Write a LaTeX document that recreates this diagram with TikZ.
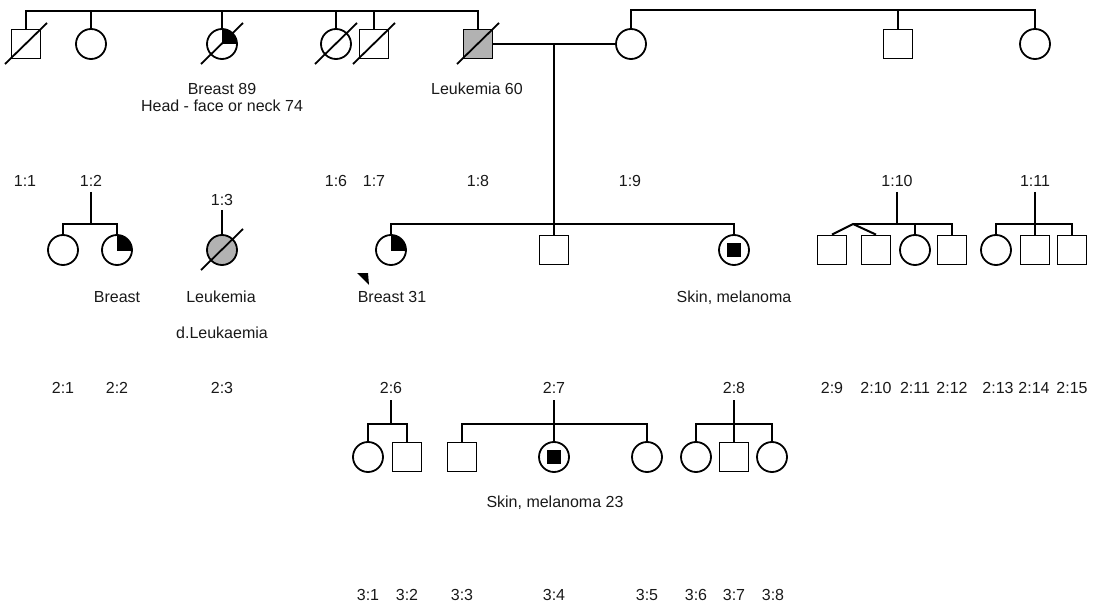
\documentclass[tikz,border=0pt]{standalone}
\usepackage{fontspec}
\setmainfont{Liberation Sans}
\usetikzlibrary{positioning}

\tikzset{
  male/.style={rectangle, draw, minimum size=29pt, inner sep=0pt, line width=1.8pt},
  female/.style={circle, draw, minimum size=30pt, inner sep=0pt, line width=1.8pt},
  ill/.style={fill=gray!60},
  core/.style={rectangle, fill=black, minimum size=14.5pt, inner sep=0pt},
  txt/.style={font=\fontsize{16}{19}\selectfont, anchor=base, inner sep=0pt, text=black!90},
  line/.style={line width=2pt},
  dead/.style={line width=1.8pt}
}

\begin{document}
\begin{tikzpicture}[x=1pt, y=-1pt]
  \useasboundingbox (0,0) rectangle (1096,615);

  % generation 1
  \node[male] (n11) at (26,44) {};
  \node[female] (n12) at (91,44) {};
  \node[female] (n13) at (222,44) {};
  \node[female] (n16) at (336,44) {};
  \node[male] (n17) at (374,44) {};
  \node[male, ill] (n18) at (478,44) {};
  \node[female] (n19) at (631,44) {};
  \node[male] (n110) at (898,44) {};
  \node[female] (n111) at (1035,44) {};

  % generation 2
  \node[female] (n21) at (63,250) {};
  \node[female] (n22) at (117,250) {};
  \node[female, ill] (n23) at (222,250) {};
  \node[female] (n26) at (391,250) {};
  \node[male] (n27) at (554,250) {};
  \node[female] (n28) at (734,250) {};
  \node[male] (n29) at (832,250) {};
  \node[male] (n210) at (876,250) {};
  \node[female] (n211) at (915,250) {};
  \node[male] (n212) at (952,250) {};
  \node[female] (n213) at (996,250) {};
  \node[male] (n214) at (1035,250) {};
  \node[male] (n215) at (1072,250) {};

  % generation 3
  \node[female] (n31) at (368,457) {};
  \node[male] (n32) at (407,457) {};
  \node[male] (n33) at (462,457) {};
  \node[female] (n34) at (554,457) {};
  \node[female] (n35) at (647,457) {};
  \node[female] (n36) at (696,457) {};
  \node[male] (n37) at (734,457) {};
  \node[female] (n38) at (772,457) {};

  \node[core] (n28x) at (n28) {};
  \node[core] (n34x) at (n34) {};

  \foreach \n in {n13,n22,n26} {
    \begin{scope}
      \clip (\n.center) rectangle (\n.east |- \n.north);
      \fill (\n.center) circle[radius=15pt];
    \end{scope}
  }
  \foreach \n in {n11,n13,n16,n17,n18,n23}
    \draw[dead] ([shift={(-21,20)}]\n.center) -- ([shift={(21,-21)}]\n.center);
  \fill ([shift={(-34,23)}]n26.center) -- ([shift={(-23,23)}]n26.center)
    -- ([shift={(-22,35)}]n26.center) -- cycle;

  % ids
  \node[txt] (l11) at (25,187) {1:1};
  \node[txt] (l12) at (91,187) {1:2};
  \node[txt] (l13) at (222,206) {1:3};
  \node[txt] (l16) at (336,187) {1:6};
  \node[txt] (l17) at (374,187) {1:7};
  \node[txt] (l18) at (478,187) {1:8};
  \node[txt] (l19) at (630,187) {1:9};
  \node[txt] (l110) at (897,187) {1:10};
  \node[txt] (l111) at (1035,187) {1:11};
  \node[txt] (l21) at (63,393) {2:1};
  \node[txt] (l22) at (117,393) {2:2};
  \node[txt] (l23) at (222,393) {2:3};
  \node[txt] (l26) at (391,393) {2:6};
  \node[txt] (l27) at (554,393) {2:7};
  \node[txt] (l28) at (734,393) {2:8};
  \node[txt] (l29) at (832,393) {2:9};
  \node[txt] (l210) at (876,393) {2:10};
  \node[txt] (l211) at (915,393) {2:11};
  \node[txt] (l212) at (952,393) {2:12};
  \node[txt] (l213) at (998,393) {2:13};
  \node[txt] (l214) at (1034,393) {2:14};
  \node[txt] (l215) at (1072,393) {2:15};
  \node[txt] (l31) at (368,600) {3:1};
  \node[txt] (l32) at (407,600) {3:2};
  \node[txt] (l33) at (462,600) {3:3};
  \node[txt] (l34) at (554,600) {3:4};
  \node[txt] (l35) at (647,600) {3:5};
  \node[txt] (l36) at (696,600) {3:6};
  \node[txt] (l37) at (734,600) {3:7};
  \node[txt] (l38) at (773,600) {3:8};

  % diagnoses
  \node[txt] (d13a) at (222,95) {Breast 89};
  \node[txt] (d13b) at (222,112) {Head - face or neck 74};
  \node[txt] (d18) at (477,95) {Leukemia 60};
  \node[txt] (d22) at (117,302) {Breast};
  \node[txt] (d23a) at (221,302) {Leukemia};
  \node[txt] (d23b) at (222,338) {d.Leukaemia};
  \node[txt] (d26) at (392,302) {Breast 31};
  \node[txt] (d28) at (734,302) {Skin, melanoma};
  \node[txt] (d34) at (555,507) {Skin, melanoma 23};

  \coordinate (m1) at (n27 |- n18);
  \coordinate (s12) at (91,224);
  \coordinate (s18) at (554,224);
  \coordinate (tw) at (853,224);
  \coordinate (s110) at (897,224);
  \coordinate (s111) at (1035,224);
  \coordinate (s26) at (391,424);
  \coordinate (s27) at (554,424);
  \coordinate (s28) at (734,424);

  \begin{scope}[line]
    \draw (n11.north) -- ++(0,-18) -| (n18.north);
    \foreach \n in {n12,n13,n16,n17}
      \draw (\n.north) -- ++(0,-18);
    \draw (n19.north) -- ++(0,-18) -| (n111.north);
    \draw (n110.north) -- ++(0,-18);
    \draw (n18.east) -- (n19.west);
    \draw (m1) -- (n27.north);
    \draw (n26.north) |- (s18) -| (n28.north);

    \draw ([yshift=-5pt]l12.base) -- (s12);
    \draw (n21.north) |- (s12) -| (n22.north);
    \draw ([yshift=-4pt]l13.base) -- (n23.north);
    \draw ([yshift=-5pt]l110.base) -- (s110);
    \draw (n29.north) -- (tw) -- (n210.north);
    \draw (tw) -| (n212.north);
    \draw (n211.north) -- (n211.north |- tw);
    \draw ([yshift=-5pt]l111.base) -- (n214.north);
    \draw (n213.north) |- (s111) -| (n215.north);

    \draw ([yshift=-7pt]l26.base) -- (s26);
    \draw (n31.north) |- (s26) -| (n32.north);
    \draw ([yshift=-7pt]l27.base) -- (n34.north);
    \draw (n33.north) |- (s27) -| (n35.north);
    \draw ([yshift=-7pt]l28.base) -- (n37.north);
    \draw (n36.north) |- (s28) -| (n38.north);
  \end{scope}
\end{tikzpicture}
\end{document}
